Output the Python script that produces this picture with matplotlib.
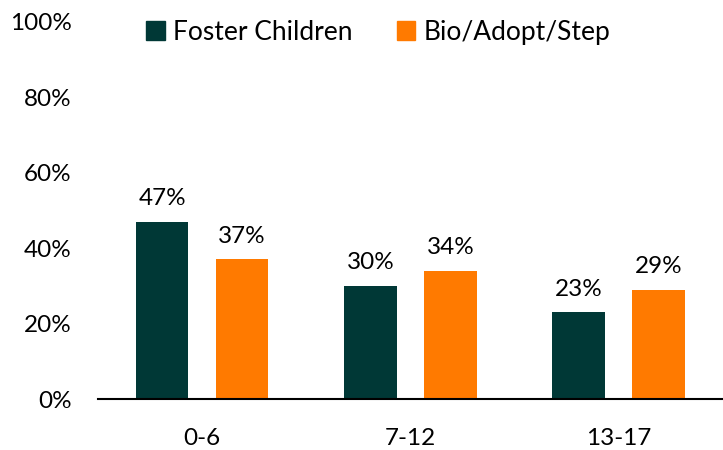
import numpy as np
import matplotlib.pyplot as plt
from matplotlib.patches import Patch

# dados do grafico
grupos = ["0-6", "7-12", "13-17"]
series = ["Foster Children", "Bio/Adopt/Step"]
foster = [47, 30, 23]
bio = [37, 34, 29]
cores = ["#003836", "#FF7A00"]

plt.rcParams['font.family'] = ['Lato', 'DejaVu Sans']

fig = plt.figure(figsize=(7.23, 4.5), dpi=100)
ax = fig.add_axes([0.1355, 0.1133, 0.8645, 0.838])

x = np.arange(len(grupos))
larg = 0.253
desl = 0.192

b1 = ax.bar(x - desl, foster, larg, color=cores[0])
b2 = ax.bar(x + desl, bio, larg, color=cores[1])

for barras, vals in [(b1, foster), (b2, bio)]:
    for b, v in zip(barras, vals):
        ax.annotate(f"{v}%", (b.get_x() + b.get_width() / 2, v),
                    xytext=(0, 9), textcoords="offset points",
                    ha="center", va="bottom", fontsize=17.5)

ax.set_xlim(-0.5, 2.5)
ax.set_ylim(0, 100)
ax.set_yticks(range(0, 101, 20))
ax.set_yticklabels([f"{t}%" for t in range(0, 101, 20)])
ax.set_xticks(x)
ax.set_xticklabels(grupos)
ax.tick_params(axis='both', length=0, labelsize=17.5)
ax.tick_params(axis='y', pad=19)
ax.tick_params(axis='x', pad=21)

for s in ['top', 'right', 'left']:
    ax.spines[s].set_visible(False)
ax.spines['bottom'].set_linewidth(1.5)

handles = [Patch(color=c, label=l) for c, l in zip(cores, series)]
fig.legend(handles=handles, loc='center', bbox_to_anchor=(0.523, 0.928),
           ncol=2, frameon=False, fontsize=19, handlelength=0.7,
           handleheight=0.7, handletextpad=0.3, columnspacing=1.7)

plt.savefig("out.png", dpi=100)
